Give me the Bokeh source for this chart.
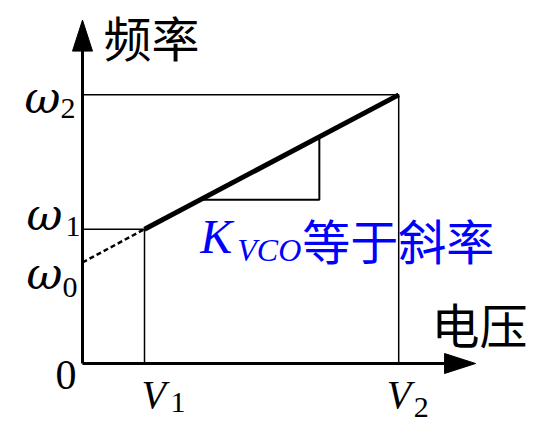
from bokeh.plotting import figure
from bokeh.models import Range1d
from bokeh.embed import file_html
from bokeh.resources import INLINE

# Voltage-controlled oscillator transfer curve: frequency vs. control voltage
volt_ticks = ["V", "V"]
volt_subs = ["1", "2"]
volt_values = [1.0, 5.1]           # V1, V2

omega_subs = ["0", "1", "2"]
omega_values = [1.0, 1.33, 2.66]   # ω0, ω1, ω2

slope_note_x = [1.9, 3.82]         # span of the slope triangle along the voltage axis

W, H = 534, 425
SX, SY = 62.0, 101.0               # pixels per unit on each axis
OX, OY = 82.0, 363.0               # where the origin sits on the canvas

x_axis_end = 6.34
y_axis_end = 3.40

p = figure(width=W, height=H, output_backend="svg", toolbar_location=None,
           x_range=Range1d(-OX / SX, (W - OX) / SX),
           y_range=Range1d(-(H - OY) / SY, OY / SY),
           x_axis_location=None, y_axis_location=None, min_border=0)
p.outline_line_color = None
p.grid.visible = False
p.background_fill_color = "white"
p.border_fill_color = "white"

v1, v2 = volt_values
w0, w1, w2 = omega_values

serif = "Liberation Serif"
greek = "DejaVu Serif"
cjk = "Noto Sans CJK SC"

# axes with arrow heads
head_len, head_half = 31.0, 10.0
p.segment(x0=[0, 0], y0=[0, 0],
          x1=[0, x_axis_end - head_len / SX], y1=[y_axis_end - head_len / SY, 0],
          line_color="black", line_width=3)
p.patches(xs=[[0, -head_half / SX, head_half / SX],
              [x_axis_end, x_axis_end - head_len / SX, x_axis_end - head_len / SX]],
          ys=[[y_axis_end, y_axis_end - head_len / SY, y_axis_end - head_len / SY],
              [0, head_half / SY, -head_half / SY]],
          fill_color="black", line_color="black", line_width=1)

# guide lines to the two operating points
p.line([0, v1, v1], [w1, w1, 0], line_color="black", line_width=1.5)
p.line([0, v2, v2], [w2, w2, 0], line_color="black", line_width=1.5)

# extrapolation to ω0 and the operating range
p.line([0, v1], [w0, w1], line_color="black", line_width=2.5, line_dash="5 3")
p.line([v1, v2], [w1, w2], line_color="black", line_width=5)

# slope triangle under the curve
k = (w2 - w1) / (v2 - v1)
ta, tb = slope_note_x
ya, yb = w1 + k * (ta - v1), w1 + k * (tb - v1)
p.line([tb, tb, ta], [yb, ya, ya], line_color="black", line_width=2)


def label(x, y, text, dx, dy, size, style="normal", font=serif,
          color="black", align="left", baseline="alphabetic"):
    # dy is where the baseline (or the middle) should land, in pixels below y
    if baseline == "alphabetic":
        dy = dy - 0.36 * size
    p.text(x=[x], y=[y], text=[text], x_offset=dx, y_offset=dy,
           text_font_size=f"{size}px", text_font_style=style,
           text_font={"value": font}, text_color=color,
           text_align=align, text_baseline=baseline)


# axis titles
label(0, y_axis_end, "频率", 21, 16, 48, font=cjk, baseline="middle")
label(x_axis_end, 0, "电压", -44, -41, 48, font=cjk, baseline="middle")
label(0, 0, "0", -6, 27, 42, align="right")

# frequency marks
omega_pos = [(-56, 27, -20, 36), (-56, 1, -17, 8), (-58, 18, -22, 24)]
for sub, val, (dx, dy, sdx, sdy) in zip(omega_subs, omega_values, omega_pos):
    label(0, val, "ω", dx, dy, 44, style="italic", font=greek)
    label(0, val, sub, sdx, sdy, 30)

# voltage marks
volt_pos = [(-3, 45, 26, 50), (-12, 45, 15, 55)]
for t, sub, val, (dx, dy, sdx, sdy) in zip(volt_ticks, volt_subs, volt_values, volt_pos):
    label(val, 0, t, dx, dy, 40, style="italic")
    label(val, 0, sub, sdx, sdy, 30)

# slope annotation
label(ta, ya, "K", 0, 54, 48, style="italic", color="#0000ff")
label(ta, ya, "VCO", 37, 62, 32, style="italic", color="#0000ff")
label(ta, ya, "等于斜率", 102, 39, 48, font=cjk, color="#0000ff", baseline="middle")

open("out.html", "w").write(file_html(p, INLINE))
